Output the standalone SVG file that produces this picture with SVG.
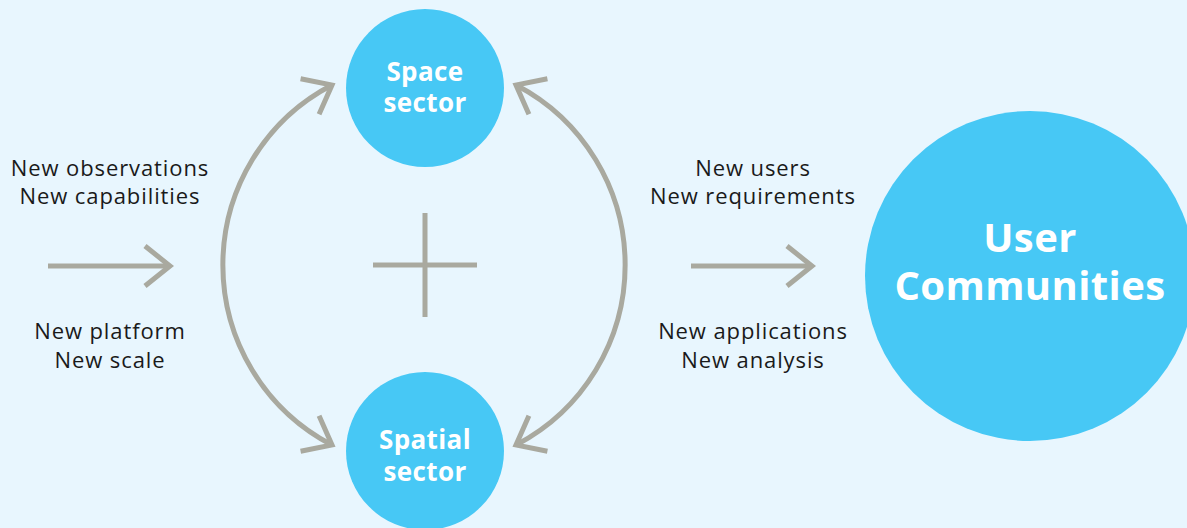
<svg xmlns="http://www.w3.org/2000/svg" width="1187" height="528" viewBox="0 0 1187 528">
  <style>
    .node { fill: #47c8f5; }
    .title { font-family: "Open Sans", "Liberation Sans", sans-serif; font-weight: bold; fill: #ffffff; text-anchor: middle; letter-spacing: 0.4px; }
    .label { font-family: "Open Sans", "Liberation Sans", sans-serif; font-size: 22px; fill: #1a1a1a; text-anchor: middle; letter-spacing: 0.9px; }
    .link { fill: none; stroke: #a9a99f; stroke-width: 5; }
  </style>
  <defs>
    <marker id="chevron" markerUnits="userSpaceOnUse" orient="auto-start-reverse" refX="0" refY="0" markerWidth="40" markerHeight="50" viewBox="-30 -25 40 50" overflow="visible">
      <path d="M -25 -20 L 0 0 L -25 20" fill="none" stroke="#a9a99f" stroke-width="5"/>
    </marker>
  </defs>
  <rect width="1187" height="528" fill="#e8f6fe"/>

  <g id="connectors">
    <line class="link" x1="48" y1="266" x2="170" y2="266" marker-end="url(#chevron)"/>
    <line class="link" x1="691" y1="266" x2="812" y2="266" marker-end="url(#chevron)"/>
    <path class="link" d="M 332 85 A 203 203 0 0 0 332 445" marker-start="url(#chevron)" marker-end="url(#chevron)"/>
    <path class="link" d="M 516 85 A 203 203 0 0 1 516 445" marker-start="url(#chevron)" marker-end="url(#chevron)"/>
    <line class="link" x1="373" y1="265" x2="477" y2="265"/>
    <line class="link" x1="425" y1="213" x2="425" y2="317"/>
  </g>

  <g id="space-sector">
    <circle class="node" cx="425" cy="88" r="79"/>
    <text class="title" font-size="26" x="425" y="81">Space<tspan x="425" dy="31">sector</tspan></text>
  </g>

  <g id="spatial-sector">
    <circle class="node" cx="425" cy="451" r="79"/>
    <text class="title" font-size="26" x="425" y="449">Spatial<tspan x="425" dy="32">sector</tspan></text>
  </g>

  <g id="user-communities">
    <circle class="node" cx="1030" cy="276" r="165"/>
    <text class="title" font-size="40" x="1030" y="252">User<tspan x="1030" dy="48">Communities</tspan></text>
  </g>

  <g id="labels">
    <text class="label" x="110" y="176">New observations<tspan x="110" dy="28">New capabilities</tspan></text>
    <text class="label" x="110" y="339">New platform<tspan x="110" dy="29">New scale</tspan></text>
    <text class="label" x="753" y="176">New users<tspan x="753" dy="28">New requirements</tspan></text>
    <text class="label" x="753" y="339">New applications<tspan x="753" dy="29">New analysis</tspan></text>
  </g>
</svg>
